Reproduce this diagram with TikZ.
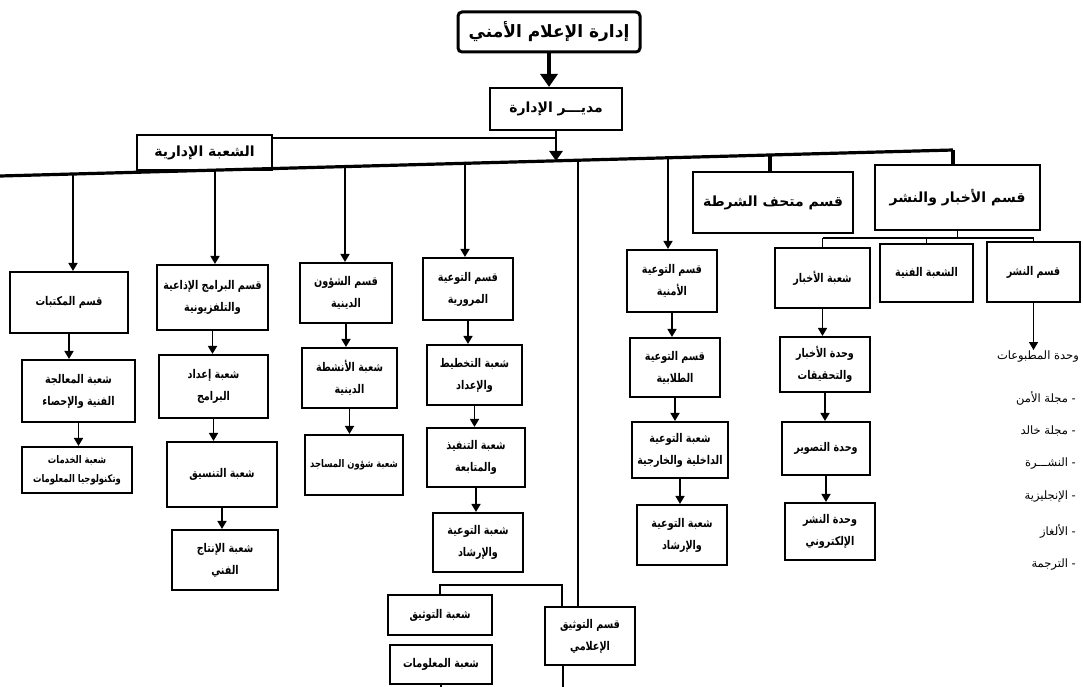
\documentclass[tikz,border=0pt]{standalone}
\usepackage{fontspec}
\newfontfamily\arfont[Script=Arabic]{DejaVu Sans}
\newfontfamily\arfontc[Script=Arabic,FakeStretch=0.8]{DejaVu Sans}
\TeXXeTstate=1
\usetikzlibrary{arrows.meta,calc}
\newcommand\AR[1]{\beginR #1\endR}
\begin{document}
\begin{tikzpicture}[x=1pt,y=-1pt,
  box/.style={draw, line width=2.1pt, align=center, inner sep=1pt,
    font=\arfontc\bfseries\fontsize{12}{22}\selectfont},
  smallbox/.style={box, font=\arfontc\bfseries\fontsize{10.5}{19}\selectfont},
  bigbox/.style={box, font=\arfont\bfseries\fontsize{14}{16}\selectfont},
  titlebox/.style={box, line width=3pt, rounded corners=4pt,
    font=\arfont\bfseries\fontsize{17}{20}\selectfont},
  listitem/.style={anchor=east, inner sep=1pt, font=\arfont\fontsize{11.5}{13}\selectfont},
  arr/.style={line width=1.6pt, -{Triangle[width=9pt,length=8pt]}},
  thickarr/.style={line width=2.6pt, -{Triangle[width=13pt,length=10pt]}},
  bigarr/.style={line width=3.5pt, -{Triangle[width=17pt,length=13pt]}},
  busline/.style={line width=3.2pt},
  link/.style={line width=1.5pt},
  thinlink/.style={line width=1.1pt}]
\useasboundingbox[fill=white] (0,0) rectangle (1083,687);

% top
\node[titlebox, minimum width=182pt, minimum height=40pt] (title) at (549,32) {\AR{إدارة الإعلام الأمني}};
\node[bigbox, minimum width=132pt, minimum height=42pt] (mgr) at (556,109) {\AR{مديـــر الإدارة}};
\node[bigbox, minimum width=135pt, minimum height=35pt] (admin) at (204.5,152.5) {\AR{الشعبة الإدارية}};
\node[bigbox, minimum width=160pt, minimum height=61pt] (museum) at (773,202.5) {\AR{قسم متحف الشرطة}};
\node[bigbox, minimum width=165pt, minimum height=65pt] (news) at (957.5,197.5) {\AR{قسم الأخبار والنشر}};

% column 1
\node[box, minimum width=118pt, minimum height=61pt] (lib) at (69,302.5) {\AR{قسم المكتبات}};
\node[box, minimum width=113pt, minimum height=62pt] (lib2) at (78.5,391) {\AR{شعبة المعالجة}\\\AR{الفنية والإحصاء}};
\node[smallbox, minimum width=110pt, minimum height=46pt] (lib3) at (77,470) {\AR{شعبة الخدمات}\\\AR{وتكنولوجيا المعلومات}};

% column 2
\node[box, minimum width=111pt, minimum height=65pt] (prog) at (212.5,297.5) {\AR{قسم البرامج الإذاعية}\\\AR{والتلفزيونية}};
\node[box, minimum width=109pt, minimum height=63pt] (prog2) at (213.5,386.5) {\AR{شعبة إعداد}\\\AR{البرامج}};
\node[box, minimum width=110pt, minimum height=65pt] (prog3) at (222,474.5) {\AR{شعبة التنسيق}};
\node[box, minimum width=106pt, minimum height=60pt] (prog4) at (225,560) {\AR{شعبة الإنتاج}\\\AR{الفني}};

% column 3
\node[box, minimum width=92pt, minimum height=60pt] (rel) at (346,293) {\AR{قسم الشؤون}\\\AR{الدينية}};
\node[box, minimum width=95pt, minimum height=60pt] (rel2) at (349.5,378) {\AR{شعبة الأنشطة}\\\AR{الدينية}};
\node[smallbox, minimum width=98pt, minimum height=60pt] (rel3) at (354,465) {\AR{شعبة شؤون المساجد}};

% column 4
\node[box, minimum width=90pt, minimum height=62pt] (traf) at (468,289) {\AR{قسم التوعية}\\\AR{المرورية}};
\node[box, minimum width=95pt, minimum height=60pt] (traf2) at (474.5,375) {\AR{شعبة التخطيط}\\\AR{والإعداد}};
\node[box, minimum width=98pt, minimum height=59pt] (traf3) at (476,457.5) {\AR{شعبة التنفيذ}\\\AR{والمتابعة}};
\node[box, minimum width=90pt, minimum height=59pt] (traf4) at (478,542.5) {\AR{شعبة التوعية}\\\AR{والإرشاد}};

% column 5
\node[box, minimum width=90pt, minimum height=62pt] (sec) at (672,281) {\AR{قسم التوعية}\\\AR{الأمنية}};
\node[box, minimum width=90pt, minimum height=59pt] (sec2) at (675,367.5) {\AR{قسم التوعية}\\\AR{الطلابية}};
\node[box, minimum width=96pt, minimum height=56pt] (sec3) at (680,450) {\AR{شعبة التوعية}\\\AR{الداخلية والخارجية}};
\node[box, minimum width=90pt, minimum height=60pt] (sec4) at (682,535) {\AR{شعبة التوعية}\\\AR{والإرشاد}};

% news column
\node[box, minimum width=95pt, minimum height=60pt] (nws) at (822.5,278) {\AR{شعبة الأخبار}};
\node[box, minimum width=90pt, minimum height=55pt] (nws2) at (825,364.5) {\AR{وحدة الأخبار}\\\AR{والتحقيقات}};
\node[box, minimum width=88pt, minimum height=53pt] (nws3) at (826,448.5) {\AR{وحدة التصوير}};
\node[box, minimum width=90pt, minimum height=57pt] (nws4) at (830,531.5) {\AR{وحدة النشر}\\\AR{الإلكتروني}};
\node[box, minimum width=93pt, minimum height=58pt] (tech) at (926.5,273) {\AR{الشعبة الفنية}};
\node[box, minimum width=93pt, minimum height=60pt] (pub) at (1033.5,272) {\AR{قسم النشر}};

% publications list
\node[listitem] (pubunit) at (1080,357) {\AR{وحدة المطبوعات}};
\node[listitem] (it1) at (1077,398) {\AR{- مجلة الأمن}};
\node[listitem] (it2) at (1077,431) {\AR{- مجلة خالد}};
\node[listitem] (it3) at (1077,464) {\AR{- النشـــرة}};
\node[listitem] (it4) at (1077,497) {\AR{- الإنجليزية}};
\node[listitem] (it5) at (1077,531) {\AR{- الألغاز}};
\node[listitem] (it6) at (1077,565) {\AR{- الترجمة}};

% documentation
\node[box, minimum width=90pt, minimum height=58pt] (doc) at (590,636) {\AR{قسم التوثيق}\\\AR{الإعلامي}};
\node[box, minimum width=104pt, minimum height=40pt] (doc1) at (440,615) {\AR{شعبة التوثيق}};
\node[box, minimum width=102pt, minimum height=39pt] (doc2) at (441,664.5) {\AR{شعبة المعلومات}};

% ---- connectors ----
\draw[bigarr] (title.south) -- (mgr.north -| title.south);
\coordinate (mj) at (556,161);
\draw[thickarr] (mgr.south) -- (mj);
\coordinate (aj) at (556,138);
\draw[link] (aj) -- (aj -| admin.east);

% main bus (slightly slanted as in the scan)
\coordinate (busL) at (0,176);
\coordinate (busR) at (953,150);
\draw[busline] (busL) -- (busR);

\coordinate (d1) at (73,174);
\coordinate (d2) at (215,170);
\coordinate (d3) at (345,166.6);
\coordinate (d4) at (465,163.3);
\coordinate (d5) at (668,157.8);
\coordinate (d6) at (770,155);
\coordinate (d7) at (578,160.3);
\draw[arr] (d1) -- (d1 |- lib.north);
\draw[arr] (d2) -- (d2 |- prog.north);
\draw[arr] (d3) -- (d3 |- rel.north);
\draw[arr] (d4) -- (d4 |- traf.north);
\draw[arr] (d5) -- (d5 |- sec.north);
\draw[busline] (d6) -- (d6 |- museum.north);
\draw[busline] (busR) -- (busR |- news.north);
\draw[link] (d7) -- (d7 |- doc.north);

% column chains
\draw[arr] (lib.south) -- (lib.south |- lib2.north);
\draw[arr] (lib2.south) -- (lib2.south |- lib3.north);
\draw[arr] (prog.south) -- (prog.south |- prog2.north);
\draw[arr] (prog2.south) -- (prog2.south |- prog3.north);
\draw[arr] (prog3.south) -- (prog3.south |- prog4.north);
\draw[arr] (rel.south) -- (rel.south |- rel2.north);
\draw[arr] (rel2.south) -- (rel2.south |- rel3.north);
\draw[arr] (traf.south) -- (traf.south |- traf2.north);
\draw[arr] (traf2.south) -- (traf2.south |- traf3.north);
\draw[arr] (traf3.south) -- (traf3.south |- traf4.north);
\draw[arr] (sec.south) -- (sec.south |- sec2.north);
\draw[arr] (sec2.south) -- (sec2.south |- sec3.north);
\draw[arr] (sec3.south) -- (sec3.south |- sec4.north);
\draw[arr] (nws.south) -- (nws.south |- nws2.north);
\draw[arr] (nws2.south) -- (nws2.south |- nws3.north);
\draw[arr] (nws3.south) -- (nws3.south |- nws4.north);
\draw[arr] (pub.south) -- (pub.south |- pubunit.north);

% news sub-bus
\coordinate (nb) at (957.5,238);
\draw[thinlink] (news.south) -- (nb);
\draw[thinlink] (nws.north |- nb) -- (pub.north |- nb);
\draw[thinlink] (nws.north |- nb) -- (nws.north);
\draw[thinlink] (tech.north |- nb) -- (tech.north);
\draw[thinlink] (pub.north |- nb) -- (pub.north);

% documentation links
\coordinate (dt) at (562,585);
\draw[thinlink] (doc.north -| dt) -- (dt) -| (doc1.north);
\coordinate (db) at (563,700);
\draw[thinlink] (doc.south -| db) -- (db) -| (doc2.south);
\end{tikzpicture}
\end{document}
